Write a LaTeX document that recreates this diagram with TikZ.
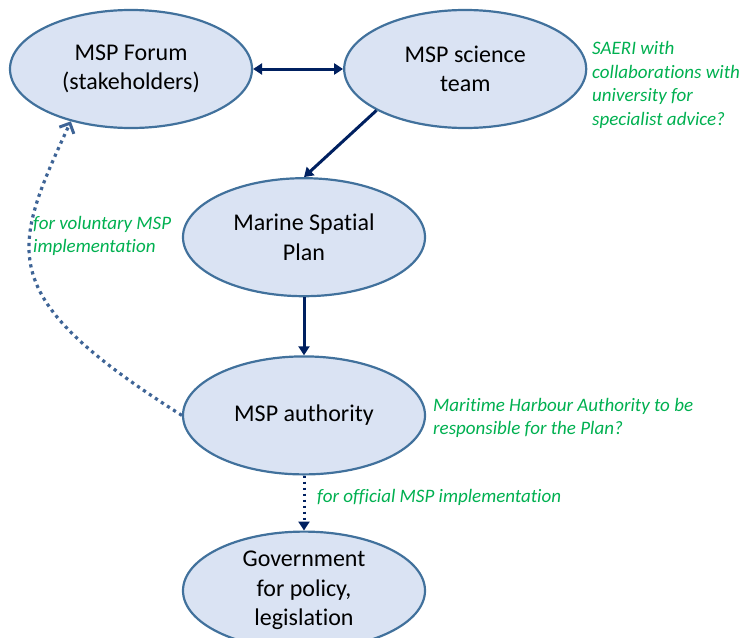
\documentclass[tikz,border=0pt]{standalone}
\usepackage{fontspec}
\setmainfont{Carlito}[Ligatures=NoCommon]
\usetikzlibrary{positioning,arrows.meta,shapes.geometric}
\definecolor{ellfill}{HTML}{DAE3F3}
\definecolor{elldraw}{HTML}{41719C}
\definecolor{navy}{HTML}{002060}
\definecolor{notegreen}{HTML}{00B050}
\definecolor{dotblue}{HTML}{3E6496}

\begin{document}
\begin{tikzpicture}[x=1pt,y=-1pt]
    \useasboundingbox (0,0) rectangle (746,637);
    \begin{scope}[node distance=58pt,
        myell/.style={ellipse, draw=elldraw, line width=2.2pt, fill=ellfill, minimum width=242pt, minimum height=118pt, inner sep=0pt, align=center, font=\fontsize{24}{29.5}\selectfont},
        mynote/.style={text=notegreen, align=left, inner sep=0pt, anchor=west, font=\fontsize{19}{23.5}\selectfont\itshape},
        myarrow/.style={draw=navy, line width=3pt, -{Triangle[length=9pt,width=11pt]}},
        mydots/.style={draw=navy, line width=3pt, dash pattern=on 2.5pt off 3.5pt, -{Triangle[length=9pt,width=11pt]}},
        myloop/.style={draw=dotblue, line width=3.2pt, dash pattern=on 3.2pt off 4pt, -{Straight Barb[length=8pt,width=16pt,line width=3pt]}}]
    \node [myell] (forum) at (131,69) {MSP Forum\\(stakeholders)};
    \node [myell, right=90pt of forum] (science) {MSP science\\team};
    \draw [myarrow, {Triangle[length=9pt,width=11pt]}-{Triangle[length=9pt,width=11pt]}] (forum) -- (science);
    % main line down
    \node [myell, below=48pt of forum, xshift=173pt] (plan) {Marine Spatial\\Plan};
    \draw [myarrow] (science.205) -- (plan.north);
    \node [myell, below=of plan] (authority) {MSP authority};
    \draw [myarrow] (plan) -- (authority);
    \node [myell, below=55pt of authority] (gov) {Government\\for policy,\\legislation};
    \draw [mydots] (authority) -- (gov);
    % voluntary route back to the forum
    \draw [myloop] (authority.west) .. controls +(-190,-120) and +(-60,130) .. (forum.221);
    % notes
    \node [mynote] (saerinote) at (592,85) {SAERI with\\collaborations with\\university for\\specialist advice?};
    \node [mynote] (volnote) at (33,236) {for voluntary MSP\\implementation};
    \node [mynote] (harbournote) at (433,418) {Maritime Harbour Authority to be\\responsible for the Plan?};
    \node [mynote] (officialnote) at (317,497) {for official MSP implementation};
    \end{scope}
\end{tikzpicture}
\end{document}
